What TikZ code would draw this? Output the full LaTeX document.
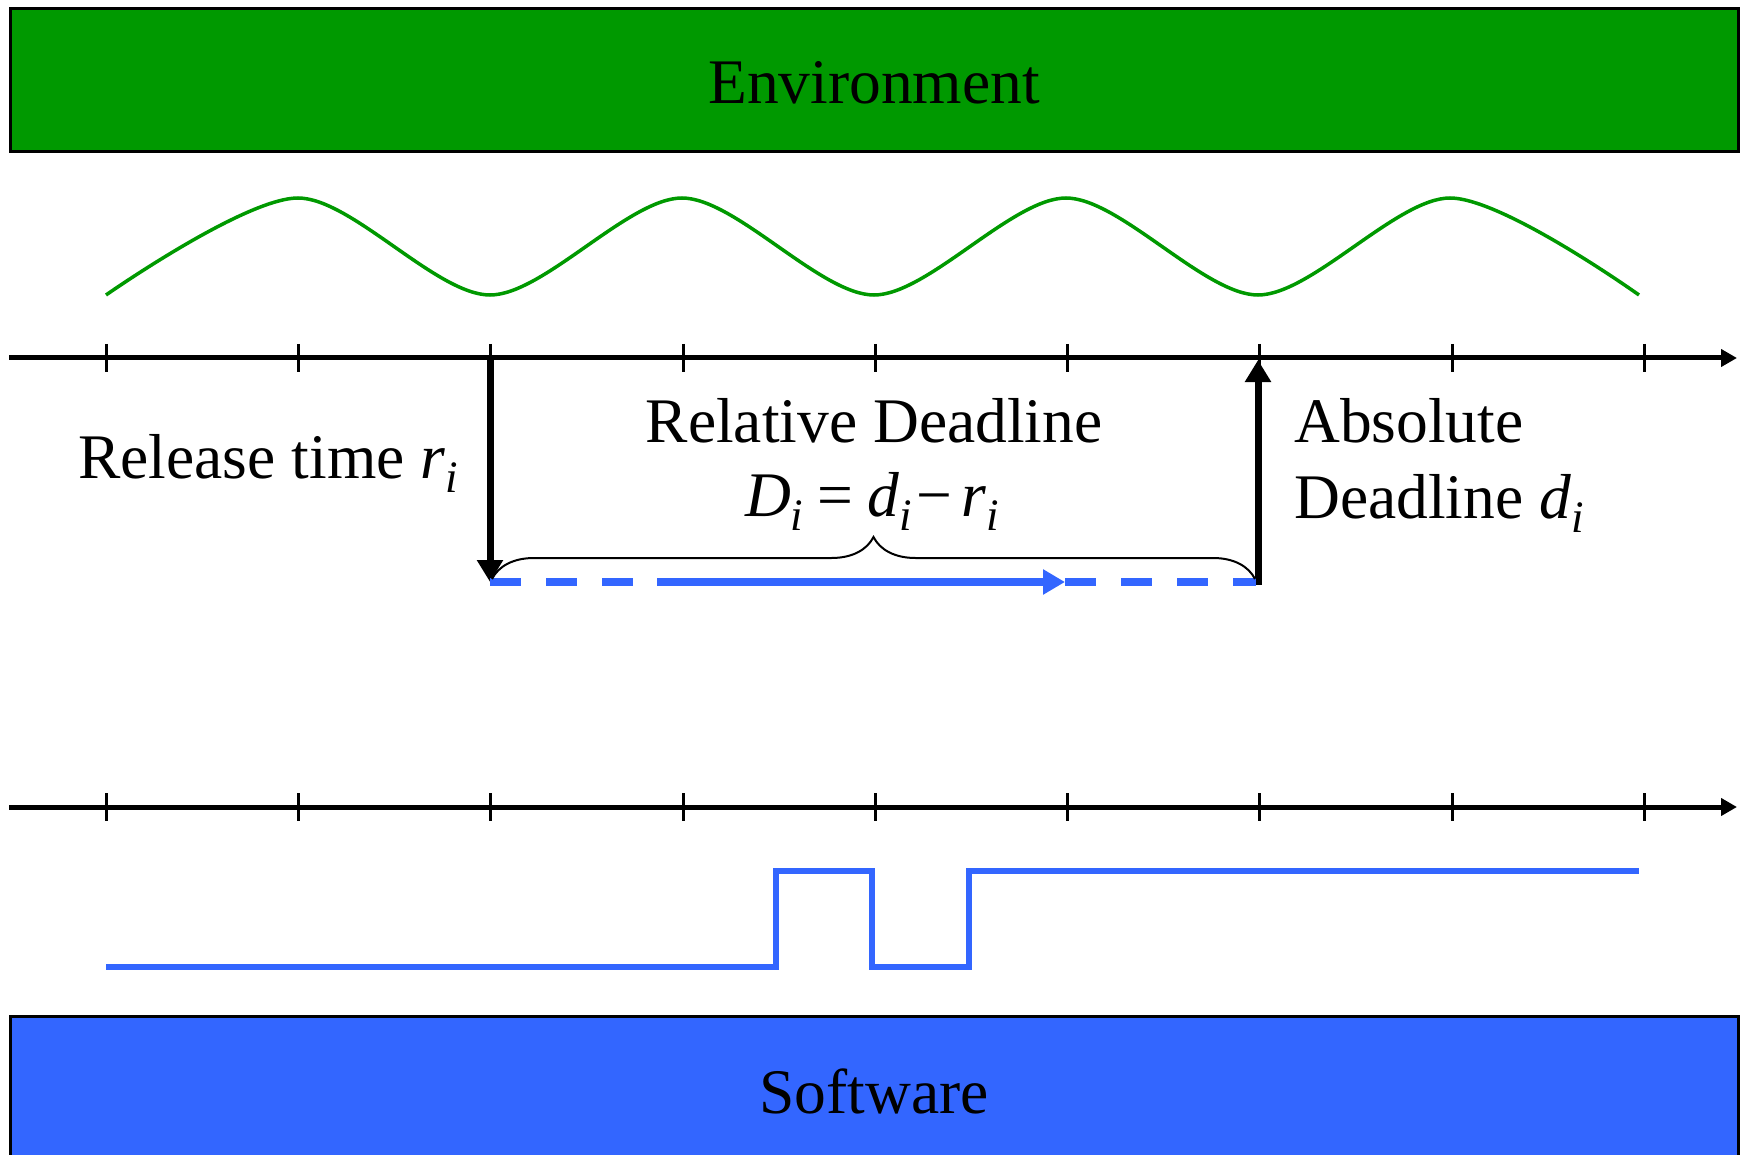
\documentclass[tikz,border=0pt]{standalone}
\usepackage{fontspec}
\setmainfont{Liberation Serif}
\usetikzlibrary{arrows.meta,decorations.pathreplacing}
\definecolor{envgreen}{HTML}{009900}
\definecolor{swblue}{HTML}{3366FF}
\newcommand{\lowi}{\raisebox{-14pt}{\fontsize{45}{45}\selectfont\itshape i}}
\begin{document}
\begin{tikzpicture}[x=1pt,y=-1pt,
  bigfont/.style={font=\fontsize{63.5}{70}\selectfont},
  band/.style={draw=black, line width=3pt, anchor=north west, inner sep=0pt,
               minimum width=1728pt},
  axisline/.style={line width=5pt, -{Triangle[length=16pt,width=17pt]}},
  tickmark/.style={line width=3pt},
  wave/.style={envgreen, line width=3.5pt},
  timearrow/.style={line width=7pt, -{Triangle[length=22pt,width=25pt]}},
  bluedash/.style={swblue, line width=8pt, dash pattern=on 31pt off 25pt},
  bluesolid/.style={swblue, line width=8pt, -{Triangle[length=22pt,width=24pt]}},
  signal/.style={swblue, line width=5.5pt},
  bracestyle/.style={decorate, decoration={brace, amplitude=42pt}, line width=2pt}
]
\useasboundingbox (0,0) rectangle (1745,1155);

% Environment band
\node[band, fill=envgreen, minimum height=143pt] (env) at (9,7) {};
\node[bigfont, anchor=base] (envtext) at (874,103.5) {Environment};

% environment wave
\draw[wave] plot[smooth] coordinates {(106,295) (298,198) (490,295) (682,198) (874,295) (1066,198) (1258,295) (1450,198) (1639,295)};

% top time axis
\coordinate (ta0) at (9,358);
\coordinate (ta1) at (1737,358);
\draw[axisline] (ta0) -- (ta1);
\foreach \x in {106,298,490,683,875,1067,1259,1452,1644}
  \draw[tickmark] (\x,344) -- (\x,372);

% bottom time axis
\coordinate (ba0) at (9,807);
\coordinate (ba1) at (1737,807);
\draw[axisline] (ba0) -- (ba1);
\foreach \x in {106,298,490,683,875,1067,1259,1452,1644}
  \draw[tickmark] (\x,793) -- (\x,821);

% release and deadline arrows
\coordinate (rel) at (490,358);
\coordinate (relend) at (490,582);
\coordinate (abs) at (1258,360);
\coordinate (absend) at (1258,585);
\draw[timearrow] (rel) -- (relend);
\draw[timearrow] (absend) -- (abs);

% blue execution window
\coordinate (b0) at (490,582);
\coordinate (b1) at (657,582);
\coordinate (b2) at (1065,582);
\coordinate (b3) at (1256,582);
\draw[bluedash] (b0) -- (b1);
\draw[bluesolid] (b1) -- (b2);
\draw[bluedash] (b2) -- (b3);

% brace
\coordinate (br0) at (492,579);
\coordinate (br1) at (1255,579);
\draw[bracestyle] (br0) -- (br1);

% labels
\node[bigfont, anchor=base east, inner sep=0pt] (reltext) at (458,478) {Release time \textit{r}\lowi};
\node[bigfont, anchor=base, inner sep=0pt] (rdtext) at (874,442) {Relative Deadline};
\node[bigfont, anchor=base, inner sep=0pt] (eqtext) at (872,516) {\textit{D}\lowi\hspace{14pt}=\hspace{14pt}\textit{d}\lowi\hspace{5pt}−\hspace{9pt}\textit{r}\lowi};
\node[bigfont, anchor=base west, inner sep=0pt] (abstext) at (1294,442) {Absolute};
\node[bigfont, anchor=base west, inner sep=0pt] (adtext) at (1294,518) {Deadline \textit{d}\lowi};

% software signal
\coordinate (s0) at (106,967);
\coordinate (s1) at (776,967);
\coordinate (s2) at (776,871);
\coordinate (s3) at (872,871);
\coordinate (s4) at (872,967);
\coordinate (s5) at (969,967);
\coordinate (s6) at (969,871);
\coordinate (s7) at (1639,871);
\draw[signal] (s0) -- (s1) -- (s2) -- (s3) -- (s4) -- (s5) -- (s6) -- (s7);

% Software band
\node[band, fill=swblue, minimum height=160pt] (sw) at (9,1015) {};
\node[bigfont, anchor=base] (swtext) at (874,1113) {Software};
\end{tikzpicture}
\end{document}
